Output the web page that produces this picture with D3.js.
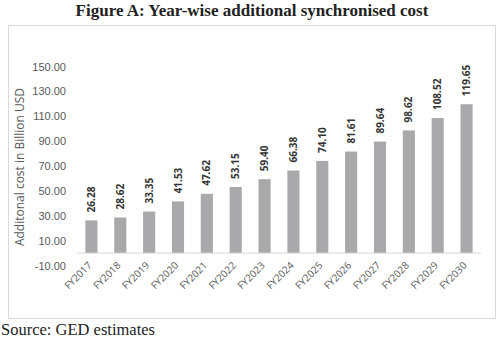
<!DOCTYPE html>
<html><head><meta charset="utf-8">
<script src="https://cdn.jsdelivr.net/npm/d3@7"></script>
<style>body{margin:0;background:#fff}svg{display:block}</style>
</head><body>
<script>
const categories = ["FY2017","FY2018","FY2019","FY2020","FY2021","FY2022","FY2023","FY2024","FY2025","FY2026","FY2027","FY2028","FY2029","FY2030"];
const values = [26.28,28.62,33.35,41.53,47.62,53.15,59.40,66.38,74.10,81.61,89.64,98.62,108.52,119.65];
const yTicks = [-10,10,30,50,70,90,110,130,150];
const title = "Figure A: Year-wise additional synchronised cost";
const yTitle = "Additonal cost in Billion USD";
const source = "Source: GED estimates";

const W = 500, H = 340;
const svg = d3.select("body").append("svg").attr("width", W).attr("height", H);
const fmt = d => d3.format(".2f")(d).replace("\u2212", "-");

svg.append("text").attr("x", 252).attr("y", 16).attr("text-anchor", "middle")
  .attr("font-family", "Liberation Serif, Times New Roman, serif").attr("font-weight", "bold")
  .attr("font-size", 17).attr("fill", "#222").text(title);

svg.append("rect").attr("x", 8.5).attr("y", 25.5).attr("width", 487).attr("height", 293)
  .attr("fill", "#fff").attr("stroke", "#d9d9d9");

const x = d3.scaleBand().domain(categories).range([77, 481]).paddingInner(0.58).paddingOuter(0.29);
const y = d3.scaleLinear().domain([-10, 150]).range([265.5, 66.5]);

// y axis labels
const yAxis = d3.axisLeft(y).tickValues(yTicks).tickFormat(fmt).tickSize(0).tickPadding(0);
const yg = svg.append("g").attr("transform", "translate(66,0)").call(yAxis);
yg.select(".domain").remove();
yg.selectAll("text").attr("font-family", "Liberation Sans, Arial, sans-serif").attr("font-size", 11).attr("fill", "#595959");

// bars
svg.append("g").selectAll("rect").data(values).join("rect")
  .attr("x", (d, i) => x(categories[i]))
  .attr("width", x.bandwidth())
  .attr("y", d => y(d))
  .attr("height", d => y(0) - y(d))
  .attr("fill", "#a9a9ab");

// baseline
svg.append("line").attr("x1", 77).attr("x2", 481).attr("y1", y(0)).attr("y2", y(0))
  .attr("stroke", "#d9d9d9").attr("stroke-width", 1);

// value labels
svg.append("g").selectAll("text").data(values).join("text")
  .attr("transform", (d, i) => `translate(${x(categories[i]) + x.bandwidth() / 2 + 3.5},${y(d) - 8}) rotate(-90)`)
  .attr("font-family", "Open Sans, DejaVu Sans, sans-serif").attr("font-weight", "bold")
  .attr("font-size", 10).attr("fill", "#333").text(fmt);

// x axis labels
const xAxis = d3.axisBottom(x).tickSize(0).tickPadding(0);
const xg = svg.append("g").attr("transform", `translate(0,${y(0)})`).call(xAxis);
xg.select(".domain").remove();
xg.selectAll("text")
  .attr("font-family", "Open Sans, DejaVu Sans, sans-serif").attr("font-size", 10).attr("fill", "#595959")
  .attr("text-anchor", "end").attr("dy", null).attr("y", 0)
  .attr("transform", "translate(1,13) rotate(-45)");

// y title
svg.append("text").attr("transform", "translate(24,167) rotate(-90)").attr("text-anchor", "middle")
  .attr("font-family", "Open Sans, DejaVu Sans, sans-serif").attr("font-size", 12).attr("fill", "#595959").text(yTitle);

svg.append("text").attr("x", 1).attr("y", 335)
  .attr("font-family", "Liberation Serif, Times New Roman, serif").attr("font-size", 16.5).attr("fill", "#222").text(source);
</script>
</body></html>
